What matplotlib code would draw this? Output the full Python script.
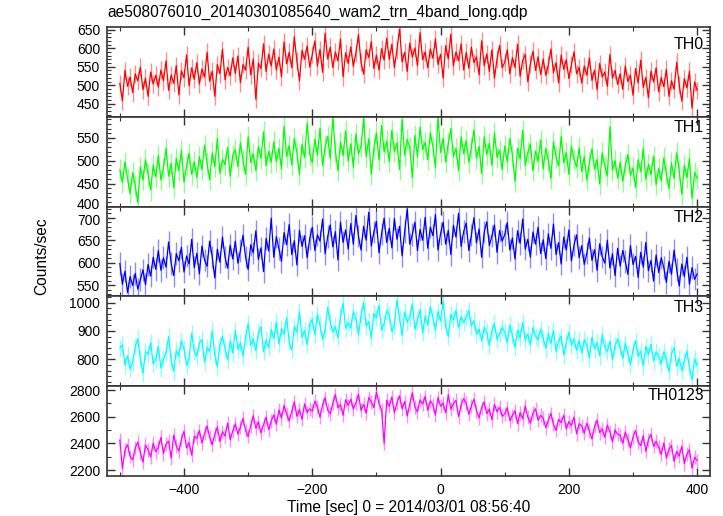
import numpy as np
import matplotlib.pyplot as plt
import matplotlib.transforms as mtransforms
from matplotlib.ticker import MultipleLocator

plt.rcParams['font.family'] = ['Liberation Sans', 'DejaVu Sans']

# time bins [sec], 4 s binning from -500 to 400
t_start, t_stop, t_bin = -500, 400, 4

th0 = [505, 458, 540, 497, 522, 480, 531, 512, 549, 488, 519, 470, 536, 503, 527,
       495, 541, 512, 566, 486, 528, 505, 553, 474, 539, 520, 582, 498, 547, 516,
       561, 503, 544, 522, 589, 511, 538, 470, 556, 531, 597, 515, 548, 526, 574,
       532, 579, 507, 556, 541, 603, 528, 571, 462, 560, 545, 612, 537, 584, 552,
       598, 541, 576, 523, 617, 558, 589, 547, 631, 565, 512, 594, 570, 606, 549,
       583, 620, 552, 597, 535, 641, 571, 603, 548, 590, 566, 625, 523, 588, 559,
       604, 551, 587, 637, 562, 530, 596, 575, 618, 545, 582, 541, 599, 568, 627,
       570, 611, 548, 596, 652, 563, 589, 537, 614, 576, 601, 553, 642, 569, 590,
       547, 598, 573, 625, 556, 584, 519, 607, 571, 638, 552, 590, 566, 612, 541,
       589, 546, 603, 561, 577, 528, 620, 553, 585, 537, 596, 519, 571, 608, 547,
       562, 596, 531, 575, 548, 611, 524, 567, 583, 509, 558, 592, 540, 577, 529,
       571, 527, 555, 598, 534, 561, 506, 582, 543, 569, 518, 556, 590, 531, 548,
       506, 552, 527, 574, 513, 541, 488, 559, 522, 536, 497, 583, 519, 540, 502,
       531, 489, 552, 510, 527, 473, 545, 506, 568, 494, 521, 466, 538, 509, 547,
       482, 521, 496, 543, 470, 512, 489, 562, 501, 457, 518, 493, 538, 438, 509,
       486]

th1 = [480, 452, 497, 461, 428, 474, 445, 409, 486, 458, 502, 471, 436, 490, 465,
       511, 458, 483, 527, 466, 494, 441, 505, 478, 522, 453, 489, 516, 470, 498,
       463, 509, 481, 534, 495, 458, 517, 487, 548, 472, 503, 491, 529, 466, 511,
       524, 487, 539, 501, 470, 552, 496, 515, 478, 531, 505, 563, 489, 520, 497,
       541, 498, 527, 482, 575, 509, 533, 491, 549, 518, 470, 536, 507, 582, 514,
       496, 547, 512, 571, 489, 530, 553, 504, 594, 521, 478, 540, 511, 565, 499,
       537, 486, 558, 515, 531, 592, 509, 548, 470, 526, 561, 501, 577, 519, 543,
       498, 566, 520, 539, 481, 590, 512, 547, 528, 463, 555, 509, 573, 524, 540,
       502, 561, 531, 485, 596, 518, 549, 497, 538, 570, 509, 527, 478, 552, 515,
       544, 496, 529, 567, 505, 531, 472, 552, 514, 538, 490, 561, 507, 523, 480,
       532, 497, 548, 512, 455, 527, 504, 566, 489, 518, 536, 478, 521, 499, 545,
       482, 527, 500, 461, 541, 508, 489, 553, 496, 517, 470, 532, 503, 486, 528,
       476, 509, 458, 495, 526, 481, 503, 449, 517, 488, 467, 574, 479, 500, 462,
       497, 455, 489, 513, 468, 484, 441, 502, 476, 527, 459, 492, 470, 510, 448,
       483, 456, 506, 472, 439, 495, 461, 517, 478, 427, 490, 463, 505, 418, 474,
       462]

th2 = [598, 552, 581, 533, 569, 549, 576, 541, 562, 584, 551, 596, 570, 612, 585,
       627, 583, 611, 590, 646, 598, 571, 620, 604, 634, 579, 615, 597, 652, 589,
       621, 575, 637, 606, 592, 648, 613, 566, 630, 601, 657, 612, 588, 639, 608,
       648, 599, 627, 661, 612, 585, 640, 622, 671, 607, 633, 580, 654, 626, 699,
       612, 658, 631, 603, 667, 640, 685, 618, 649, 595, 672, 636, 660, 611, 653,
       679, 627, 662, 648, 697, 620, 658, 684, 635, 669, 606, 690, 645, 673, 630,
       687, 641, 705, 659, 628, 681, 650, 712, 637, 668, 692, 622, 664, 699, 645,
       676, 633, 698, 652, 681, 615, 669, 720, 641, 663, 690, 627, 674, 650, 701,
       632, 679, 660, 707, 628, 665, 690, 641, 672, 618, 683, 657, 710, 636, 669,
       688, 627, 661, 700, 644, 675, 612, 668, 691, 638, 659, 684, 623, 672, 648,
       662, 689, 628, 655, 608, 671, 643, 697, 630, 652, 612, 668, 641, 679, 620,
       651, 609, 664, 632, 686, 618, 645, 597, 657, 628, 673, 604, 639, 662, 611,
       638, 596, 621, 655, 605, 629, 583, 642, 613, 599, 650, 588, 620, 571, 632,
       592, 627, 603, 574, 638, 596, 614, 567, 623, 590, 645, 582, 605, 559, 617,
       578, 611, 589, 556, 603, 574, 628, 585, 548, 597, 569, 612, 552, 589, 563,
       575]

th3 = [838, 851, 779, 812, 766, 790, 845, 872, 803, 751, 828, 817, 859, 784, 799,
       846, 769, 801, 823, 880, 795, 758, 831, 812, 866, 837, 779, 804, 892, 826,
       811, 857, 869, 790, 842, 828, 901, 815, 774, 853, 880, 839, 797, 864, 822,
       902, 835, 858, 811, 877, 926, 849, 871, 830, 893, 914, 826, 868, 841, 905,
       872, 931, 855, 908, 889, 947, 861, 833, 915, 896, 968, 878, 902, 851, 924,
       940, 887, 958, 921, 869, 905, 983, 932, 897, 914, 876, 951, 998, 909, 928,
       911, 969, 942, 886, 954, 1001, 917, 933, 875, 962, 947, 990, 903, 925, 971,
       958, 899, 920, 1010, 943, 884, 967, 931, 949, 996, 906, 938, 975, 893, 952,
       921, 986, 947, 902, 969, 934, 1004, 915, 880, 958, 939, 972, 910, 951, 929,
       948, 972, 917, 936, 889, 907, 865, 912, 893, 848, 901, 926, 870, 889, 912,
       897, 858, 921, 884, 842, 903, 876, 930, 867, 889, 851, 912, 880, 869, 906,
       874, 839, 891, 856, 903, 828, 867, 882, 815, 858, 895, 849, 872, 831, 866,
       822, 869, 851, 804, 878, 836, 859, 811, 887, 842, 828, 863, 799, 848, 871,
       840, 803, 857, 819, 781, 833, 866, 810, 828, 776, 845, 817, 852, 793, 826,
       811, 784, 826, 799, 756, 818, 842, 775, 803, 760, 794, 829, 772, 728, 801,
       779]

th0123 = [2425, 2212, 2348, 2391, 2302, 2276, 2365, 2410, 2331, 2259, 2388, 2352, 2297, 2402, 2338,
          2371, 2446, 2322, 2395, 2418, 2289, 2462, 2380, 2343, 2427, 2491, 2366, 2405, 2312, 2453,
          2438, 2497, 2402, 2476, 2531, 2447, 2389, 2469, 2522, 2415, 2488, 2456, 2553, 2427, 2493,
          2546, 2470, 2521, 2588, 2497, 2452, 2533, 2609, 2514, 2562, 2478, 2541, 2597, 2503, 2568,
          2615, 2544, 2651, 2589, 2686, 2622, 2568, 2639, 2714, 2603, 2655, 2581, 2697, 2632, 2660,
          2641, 2718, 2675, 2596, 2689, 2743, 2650, 2622, 2701, 2768, 2667, 2692, 2611, 2728, 2685,
          2732, 2659, 2704, 2771, 2648, 2693, 2627, 2745, 2712, 2669, 2786, 2701, 2654, 2400, 2723,
          2677, 2749, 2631, 2702, 2758, 2660, 2715, 2605, 2694, 2781, 2672, 2638, 2727, 2696, 2752,
          2648, 2720, 2691, 2612, 2745, 2679, 2703, 2630, 2766, 2657, 2698, 2724, 2601, 2688, 2737,
          2702, 2619, 2681, 2733, 2646, 2592, 2668, 2710, 2623, 2657, 2579, 2694, 2637, 2671, 2604,
          2622, 2668, 2571, 2609, 2645, 2548, 2631, 2584, 2682, 2597, 2553, 2626, 2660, 2575, 2611,
          2589, 2518, 2573, 2625, 2544, 2497, 2581, 2556, 2612, 2508, 2564, 2533, 2598, 2472, 2549,
          2531, 2476, 2552, 2493, 2433, 2527, 2574, 2481, 2509, 2446, 2538, 2487, 2412, 2501, 2468,
          2462, 2401, 2485, 2427, 2366, 2449, 2496, 2410, 2383, 2457, 2341, 2428, 2470, 2377, 2415,
          2372, 2318, 2403, 2291, 2357, 2384, 2266, 2339, 2305, 2378, 2248, 2321, 2352, 2215, 2296,
          2270]

# typical 1-sigma error of a bin
errors = [24, 23, 25, 30, 52]

series = [th0, th1, th2, th3, th0123]
names = ['TH0', 'TH1', 'TH2', 'TH3', 'TH0123']
colors = ['#ff0000', '#00ff00', '#0000ff', '#00ffff', '#ff00ff']
ylims = [(415, 658), (400, 596), (525, 725), (705, 1022), (2155, 2830)]
ymajor = [50, 50, 50, 100, 200]
yminor = [10, 10, 10, 20, 100]
name_y = [0.80, 0.88, 0.88, 0.875, 0.90]

t = np.arange(t_start, t_stop + 1, t_bin)

fig, axes = plt.subplots(5, 1, sharex=True, figsize=(7.23, 5.16), dpi=100)
fig.subplots_adjust(left=0.148, right=0.982, top=0.948, bottom=0.0775, hspace=0)

for ax, y, err, name, ny, c, lim, mj, mn in zip(axes, series, errors, names, name_y,
                                                 colors, ylims, ymajor, yminor):
    y = np.array(y)
    ax.errorbar(t, y, yerr=err, fmt='none', ecolor=c, elinewidth=1.0, alpha=0.45)
    ax.plot(t, y, color=c, lw=0.9)
    ax.set_ylim(*lim)
    ax.yaxis.set_major_locator(MultipleLocator(mj))
    ax.yaxis.set_minor_locator(MultipleLocator(mn))
    ax.xaxis.set_major_locator(MultipleLocator(200))
    ax.xaxis.set_minor_locator(MultipleLocator(100))
    ax.tick_params(which='both', direction='in', top=True, right=True,
                   labelsize=10, color='#333333', pad=5)
    ax.tick_params(which='major', length=6, width=1)
    ax.tick_params(which='minor', length=3, width=0.8)
    for s in ax.spines.values():
        s.set_linewidth(1.2)
        s.set_color('#333333')
    ax.text(0.99, ny, name, transform=ax.transAxes, ha='right', va='center',
            fontsize=11.5)

axes[-1].set_xlim(-520, 420)
axes[-1].set_xlabel('Time [sec] 0 = 2014/03/01 08:56:40', fontsize=11.2, labelpad=2)
fig.text(0.058, 0.504, 'Counts/sec', rotation=90, ha='center', va='center', fontsize=11.2)
fig.text(0.148, 0.975, 'ae508076010_20140301085640_wam2_trn_4band_long.qdp',
         ha='left', va='center', fontsize=11.2)

# the bottom label of TH1 and the top label of TH2 sit very close: nudge them apart
fig.canvas.draw()
for tick in axes[1].yaxis.get_major_ticks():
    if abs(tick.get_loc() - 400) < 1e-6:
        lab = tick.label1
        lab.set_transform(lab.get_transform() + mtransforms.ScaledTranslation(0, 2 / 72, fig.dpi_scale_trans))
for tick in axes[2].yaxis.get_major_ticks():
    if abs(tick.get_loc() - 700) < 1e-6:
        lab = tick.label1
        lab.set_transform(lab.get_transform() + mtransforms.ScaledTranslation(0, -1 / 72, fig.dpi_scale_trans))

fig.savefig('out.png', dpi=100)
